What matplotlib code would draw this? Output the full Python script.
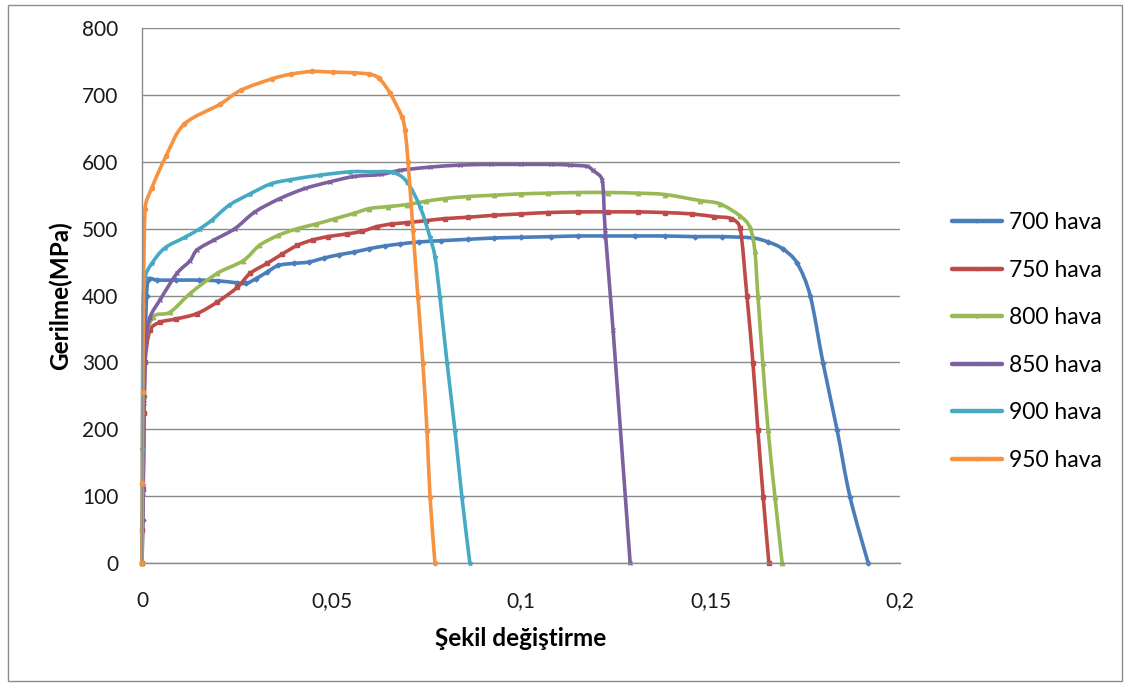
import numpy as np
import matplotlib
matplotlib.use("Agg")
import matplotlib.pyplot as plt
from matplotlib.patches import Rectangle, PathPatch
from matplotlib.path import Path
from matplotlib.lines import Line2D
from matplotlib.ticker import FixedLocator, FixedFormatter

plt.rcParams['font.family'] = ['Lato', 'DejaVu Sans']

# Strain (Şekil değiştirme) and stress (Gerilme, MPa) for each annealing temperature
x_700 = [0, 0.0002, 0.0006, 0.0012, 0.0018, 0.004, 0.009, 0.015, 0.020, 0.025, 0.0275,
         0.030, 0.033, 0.036, 0.040, 0.044, 0.048, 0.052, 0.056, 0.060, 0.064, 0.068,
         0.073, 0.079, 0.086, 0.093, 0.100, 0.108, 0.115, 0.122, 0.130, 0.138, 0.146,
         0.153, 0.1612, 0.1652, 0.169, 0.1728, 0.1763, 0.1797, 0.1834, 0.1868, 0.1916]
y_700 = [0, 65, 250, 400, 424, 423, 423, 423, 422, 419, 418,
         425, 435, 445, 448, 450, 456, 461, 465, 470, 474, 477,
         480, 482, 484, 486, 487, 488, 489, 489, 489, 489, 488,
         488, 486, 480, 470, 449, 400, 299, 199, 99, 0]

x_750 = [0, 0.0001, 0.0003, 0.0005, 0.0008, 0.0021, 0.0047, 0.009, 0.0145, 0.0198, 0.0251,
         0.0285, 0.033, 0.037, 0.041, 0.045, 0.049, 0.054, 0.058, 0.062, 0.066, 0.070,
         0.075, 0.080, 0.086, 0.093, 0.100, 0.107, 0.115, 0.123, 0.131, 0.138, 0.145,
         0.151, 0.1555, 0.1578, 0.1596, 0.1612, 0.1625, 0.1639, 0.1654]
y_750 = [0, 50, 110, 225, 300, 348, 360, 365, 373, 390, 412,
         433, 448, 462, 475, 483, 488, 492, 496, 503, 507, 509,
         512, 515, 517, 520, 522, 524, 525, 525, 525, 524, 522,
         518, 515, 501, 400, 299, 199, 99, 0]

x_800 = [0, 0.0002, 0.0005, 0.0009, 0.0029, 0.0074, 0.0127, 0.0198, 0.0267, 0.031, 0.036,
         0.041, 0.046, 0.051, 0.056, 0.060, 0.065, 0.070, 0.075, 0.080, 0.086, 0.093,
         0.100, 0.107, 0.115, 0.123, 0.131, 0.138, 0.1472, 0.1525, 0.1578, 0.1604,
         0.1617, 0.1625, 0.1638, 0.1652, 0.167, 0.1689]
y_800 = [0, 120, 250, 330, 368, 375, 403, 433, 452, 475, 490,
         500, 507, 515, 523, 530, 533, 536, 541, 545, 548, 550,
         552, 553, 554, 554, 553, 551, 542, 537, 519, 502,
         467, 400, 299, 199, 99, 0]

x_850 = [0, 0.0003, 0.0006, 0.001, 0.0021, 0.0047, 0.0092, 0.0127, 0.0145, 0.019, 0.0245,
         0.0298, 0.0364, 0.043, 0.0496, 0.056, 0.063, 0.068, 0.076, 0.084, 0.092, 0.100,
         0.108, 0.113, 0.1175, 0.119, 0.1214, 0.1222, 0.1243, 0.1288]
y_850 = [0, 105, 240, 330, 367, 393, 433, 452, 468, 483, 500,
         525, 545, 560, 570, 578, 581, 587, 592, 595, 596, 596,
         596, 595, 593, 587, 573, 498, 348, 0]

x_900 = [0, 0.0001, 0.0003, 0.0008, 0.0026, 0.006, 0.0113, 0.0153, 0.0185, 0.023, 0.0285,
         0.034, 0.039, 0.047, 0.055, 0.0602, 0.0662, 0.0699, 0.0734, 0.0760, 0.0773,
         0.0786, 0.0805, 0.0826, 0.0844, 0.0865]
y_900 = [0, 170, 385, 427, 448, 471, 487, 500, 513, 535, 552,
         567, 573, 580, 585, 585, 584, 570, 532, 487, 458,
         398, 299, 197, 99, 0]

x_950 = [0, 0.0001, 0.0002, 0.0008, 0.0026, 0.0063, 0.0111, 0.0206, 0.0261, 0.0343,
         0.0393, 0.0449, 0.0505, 0.0560, 0.0600, 0.0625, 0.0654, 0.0686, 0.0694, 0.0702,
         0.0715, 0.0728, 0.0741, 0.0752, 0.0760, 0.0773]
y_950 = [0, 120, 255, 529, 561, 608, 656, 686, 707, 724,
         731, 735, 734, 733, 731, 725, 703, 667, 647, 600,
         498, 398, 299, 197, 99, 0]

series_labels = ['700 hava', '750 hava', '800 hava', '850 hava', '900 hava', '950 hava']
series_x = [x_700, x_750, x_800, x_850, x_900, x_950]
series_y = [y_700, y_750, y_800, y_850, y_900, y_950]
series_colors = ['#4A7EBB', '#BE4B48', '#98B954', '#7D60A0', '#46AAC5', '#F69240']
series_markers = ['D', 's', '^', 'x', '*', 'o']
marker_sizes = [2.5, 3.2, 3.2, 3.2, 3.5, 3.0]

x_ticks = [0, 0.05, 0.1, 0.15, 0.2]
x_tick_labels = ['0', '0,05', '0,1', '0,15', '0,2']
y_ticks = [0, 100, 200, 300, 400, 500, 600, 700, 800]


def smoothed_path(ax, xs, ys):
    """Cubic Bezier path through the points (smoothed-line style),
    with control handles limited to avoid overshooting short segments."""
    pts = ax.transData.transform(np.column_stack([xs, ys]).astype(float))
    n = len(pts)
    verts = [pts[0]]
    codes = [Path.MOVETO]

    def unit(v):
        d = np.hypot(*v)
        return (v / d, d) if d > 0 else (v * 0, 0.0)

    for i in range(n - 1):
        p0 = pts[i - 1] if i > 0 else pts[i]
        p1 = pts[i]
        p2 = pts[i + 1]
        p3 = pts[i + 2] if i + 2 < n else pts[i + 1]
        seg = np.hypot(*(p2 - p1))
        u1, d1 = unit(p2 - p0)
        u2, d2 = unit(p3 - p1)
        c1 = p1 + u1 * min(d1 / 6.0, seg * 0.4)
        c2 = p2 - u2 * min(d2 / 6.0, seg * 0.4)
        verts += [c1, c2, p2]
        codes += [Path.CURVE4] * 3
    verts = ax.transData.inverted().transform(np.array(verts))
    return Path(verts, codes)


fig = plt.figure(figsize=(11.31, 6.86), dpi=100)
ax = fig.add_axes([142 / 1131, 1 - 563 / 686, 758 / 1131, 535 / 686])
ax.set_xlim(0, 0.2)
ax.set_ylim(0, 800)

handles = []
for k, (xs, ys, lab, col, mk, ms) in enumerate(zip(series_x, series_y, series_labels,
                                                    series_colors, series_markers,
                                                    marker_sizes)):
    patch = PathPatch(smoothed_path(ax, xs, ys), facecolor='none', edgecolor=col,
                      lw=2.6, capstyle='round', joinstyle='round', zorder=2 + k * 0.1,
                      clip_on=False)
    ax.add_patch(patch)
    ax.plot(xs, ys, ls='none', marker=mk, ms=ms, mec=col, mfc=col,
            zorder=2.05 + k * 0.1, clip_on=False)
    handles.append(Line2D([], [], color=col, lw=3.2, marker=mk, ms=ms * 0.6,
                          mec=col, mfc=col, solid_capstyle='round'))

ax.xaxis.set_major_locator(FixedLocator(x_ticks))
ax.xaxis.set_major_formatter(FixedFormatter(x_tick_labels))
ax.yaxis.set_major_locator(FixedLocator(y_ticks))

ax.grid(axis='y', color='#8a8a8a', lw=1.0)
ax.set_axisbelow(True)
for side in ('top', 'right'):
    ax.spines[side].set_visible(False)
for side in ('left', 'bottom'):
    ax.spines[side].set_color('#8a8a8a')
    ax.spines[side].set_linewidth(1.0)

ax.tick_params(axis='both', length=0, labelsize=15, labelcolor='#1a1a1a')
ax.tick_params(axis='y', pad=17)
ax.tick_params(axis='x', pad=20)

ax.set_xlabel('Şekil değiştirme', fontsize=17.5, fontweight='bold', labelpad=12)
ax.set_ylabel('Gerilme(MPa)', fontsize=17.5, fontweight='bold', labelpad=7)

ax.legend(handles, series_labels, loc='center left',
          bbox_to_anchor=(952 / 1131, 1 - 341.5 / 686),
          bbox_transform=fig.transFigure, frameon=False, fontsize=16.5,
          handlelength=2.2, handletextpad=0.3, labelspacing=1.16,
          borderpad=0, borderaxespad=0)

fig.patches.append(Rectangle((8 / 1131, 5 / 686), 1114 / 1131, 676 / 686,
                             transform=fig.transFigure, fill=False,
                             edgecolor='#8c8c8c', lw=1.0))

fig.savefig('out.png', dpi=100)
